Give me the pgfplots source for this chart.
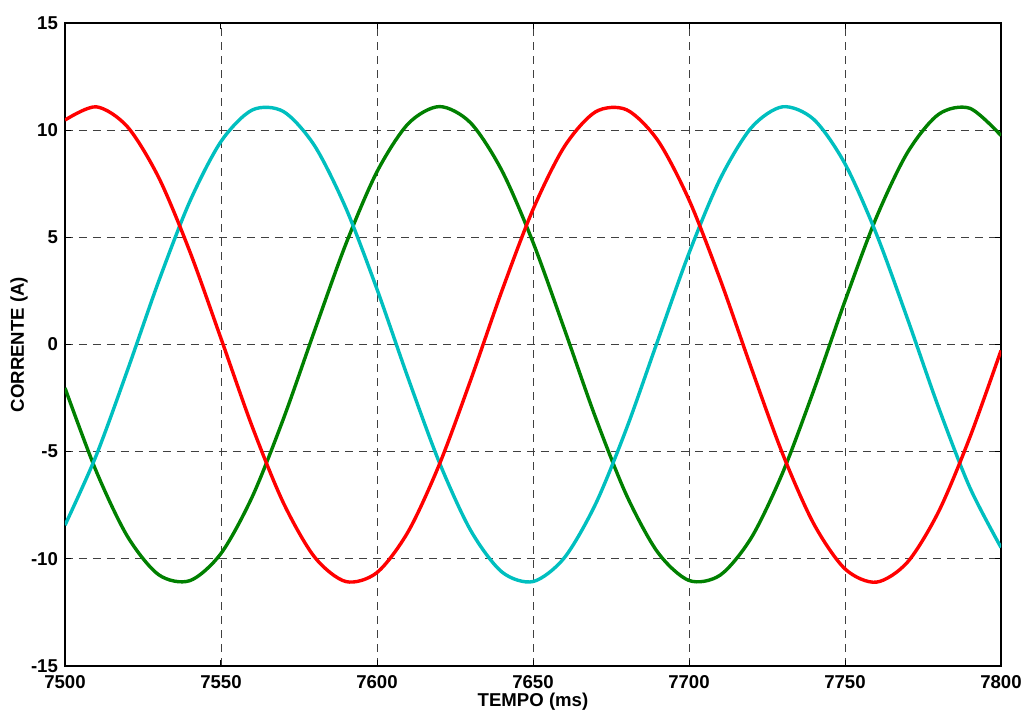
\documentclass[border=0pt]{standalone}
\usepackage{fontspec}
\setmainfont{Liberation Sans}
\usepackage{pgfplots}
\pgfplotsset{compat=1.18}
\usetikzlibrary{calc}
\definecolor{mred}{RGB}{255,0,0}
\definecolor{mcyan}{RGB}{0,191,191}
\definecolor{mgreen}{RGB}{0,128,0}
\begin{document}
\begin{tikzpicture}
\begin{axis}[
    scale only axis,
    width=468pt, height=321.5pt,
    xmin=7500, xmax=7800,
    ymin=-15, ymax=15,
    xtick={7500,7550,...,7800},
    ytick={-15,-10,...,15},
    /pgf/number format/assume math mode=true,
    /pgf/number format/1000 sep={},
    tick label style={font=\fontsize{9.3}{11}\selectfont\bfseries},
    xticklabel style={yshift=-1.2pt},
    xlabel={TEMPO (ms)},
    ylabel={CORRENTE (A)},
    every axis x label/.style={at={(axis description cs:0.5,-0.056)}, anchor=center,
        font=\fontsize{9.3}{11}\selectfont\bfseries},
    every axis y label/.style={at={(axis description cs:-0.049,0.5)}, anchor=center, rotate=90,
        font=\fontsize{9.3}{11}\selectfont\bfseries},
    grid=major,
    major grid style={black!75, line width=0.4pt, dash pattern=on 4pt off 3pt},
    tick align=inside,
    major tick length=3pt,
    tick style={black, line width=0.5pt},
    axis line style={line width=0.6pt},
    every axis plot/.append style={line width=1.7pt, smooth, no markers},
]
\coordinate (sw) at (rel axis cs:0,0);
\coordinate (ne) at (rel axis cs:1,1);
% green phase
\addplot[mgreen] coordinates {
(7500,-2.03) (7510,-5.91) (7520,-8.95) (7530,-10.74) (7540,-11.02) (7550,-9.75)
(7560,-7.11) (7570,-3.47) (7580,0.65) (7590,4.68) (7600,8.06) (7610,10.30)
(7620,11.10) (7630,10.34) (7640,8.12) (7650,4.77) (7660,0.74) (7670,-3.39)
(7680,-7.04) (7690,-9.70) (7700,-11.01) (7710,-10.76) (7720,-9.01) (7730,-5.99)
(7740,-2.13) (7750,2.03) (7760,5.91) (7770,8.95) (7780,10.74) (7790,11.02) (7800,9.75)
};
% cyan phase
\addplot[mcyan] coordinates {
(7500,-8.43) (7510,-5.18) (7520,-1.21) (7530,2.94) (7540,6.67) (7550,9.47)
(7560,10.94) (7570,10.87) (7580,9.27) (7590,6.37) (7600,2.58) (7610,-1.58)
(7620,-5.51) (7630,-8.67) (7640,-10.61) (7650,-11.06) (7660,-9.96) (7670,-7.46)
(7680,-3.91) (7690,0.19) (7700,4.26) (7710,7.73) (7720,10.12) (7730,11.09)
(7740,10.50) (7750,8.43) (7760,5.18) (7770,1.21) (7780,-2.94) (7790,-6.67) (7800,-9.47)
};
% red phase
\addplot[mred] coordinates {
(7500,10.47) (7510,11.09) (7520,10.16) (7530,7.80) (7540,4.34) (7550,0.28)
(7560,-3.83) (7570,-7.39) (7580,-9.92) (7590,-11.06) (7600,-10.64) (7610,-8.73)
(7620,-5.59) (7630,-1.67) (7640,2.49) (7650,6.30) (7660,9.22) (7670,10.85)
(7680,10.95) (7690,9.52) (7700,6.75) (7710,3.03) (7720,-1.11) (7730,-5.10)
(7740,-8.37) (7750,-10.47) (7760,-11.09) (7770,-10.16) (7780,-7.80) (7790,-4.34) (7800,-0.28)
};
\end{axis}
\pgfresetboundingbox
\path ($(sw)+(-32.5pt,-24.5pt)$) rectangle ($(ne)+(11.5pt,11.5pt)$);
\end{tikzpicture}
\end{document}
